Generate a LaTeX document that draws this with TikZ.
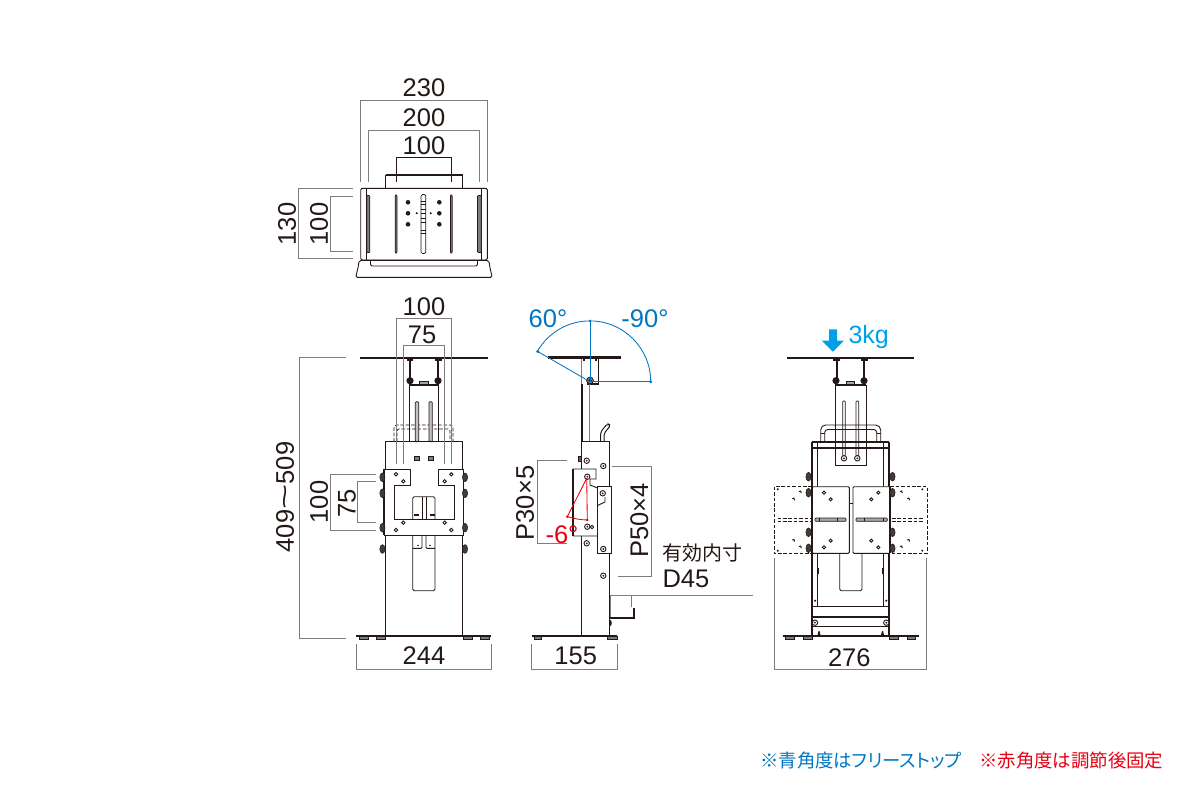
\documentclass[tikz,border=0pt]{standalone}
\usepackage{fontspec}
\setmainfont{Liberation Sans}
\newfontfamily\cjk{Noto Sans CJK JP}
\newfontfamily\cjkp[RawFeature=+palt]{Noto Sans CJK JP}
\definecolor{ink}{HTML}{231815}
\definecolor{dimgray}{HTML}{7D7D7D}
\definecolor{angblue}{HTML}{0075C2}
\definecolor{angred}{HTML}{E60012}
\definecolor{loadblue}{HTML}{00A0E9}
\definecolor{slotgray}{HTML}{A8A8A8}
\tikzset{
  dimline/.style={draw=dimgray,line width=0.75pt},
  part/.style={draw=ink,line width=0.9pt},
  thin part/.style={draw=ink,line width=0.6pt},
  heavy/.style={draw=ink,line width=1.7pt},
  plate/.style={draw=ink,line width=2.1pt},
  slot/.style={draw=ink,fill=slotgray,line width=0.7pt,rounded corners=0.8pt},
  foot/.style={draw=ink,fill=dimgray,line width=0.4pt},
  bore/.style={draw=ink,fill=white,line width=0.9pt},
  solid hole/.style={fill=ink,draw=none},
  knob/.style={draw=ink,fill=ink!85,line width=0.5pt},
  dashpart/.style={draw=ink,line width=0.95pt,dash pattern=on 3.6pt off 1.8pt},
  dimtext/.style={text=ink,font=\fontsize{25.5}{26}\selectfont,inner sep=0pt},
  bluetext/.style={text=angblue,font=\fontsize{25.5}{26}\selectfont,inner sep=0pt},
  redtext/.style={text=angred,font=\fontsize{25.5}{26}\selectfont,inner sep=0pt},
  note/.style={font=\fontsize{20}{20}\selectfont\cjk,text=ink,inner sep=0pt,anchor=west},
  foot note/.style={font=\fontsize{18.4}{19}\selectfont,inner sep=0pt,anchor=west},
  bluedot/.style={fill=angblue,draw=none},
  reddot/.style={fill=angred,draw=none},
  blueline/.style={draw=angblue,line width=0.85pt},
  redline/.style={draw=angred,line width=0.85pt},
}
\newcommand{\bor}[2]{\draw[bore] (#1,#2) circle (1.7);}
\newcommand{\bigbor}[2]{\draw[bore] (#1,#2) circle (2.7); \fill[ink] (#1,#2) circle (1);}
\newcommand{\kn}[2]{\draw[knob] (#1,#2) ellipse (2.6 and 4.4);}
\newcommand{\feet}[2]{\draw[foot] (#1,636.6) rectangle (#2,638.8);}
\begin{document}
\begin{tikzpicture}[x=1pt,y=-1pt]
\useasboundingbox (0,0) rectangle (1200,800);

%% ---------- TOP VIEW ----------
\draw[dimline] (360.5,181.5) -- (360.5,100.7) -- (487.5,100.7) -- (487.5,181.5);
\draw[dimline] (368,181.5) -- (368,130) -- (479.5,130) -- (479.5,181.5);
\draw[part] (396.5,181.5) -- (396.5,157.5) -- (451.5,157.5) -- (451.5,181.5);
\draw[dimline] (353.3,188.3) -- (298.3,188.3) -- (298.3,258.3) -- (353.3,258.3);
\draw[dimline] (353.3,196.7) -- (330,196.7) -- (330,251.7) -- (353.3,251.7);
\draw[part] (385.5,188) -- (385.5,174.8);
\draw[part] (462.5,188) -- (462.5,174.8);
\draw[heavy] (385.5,175) -- (462.5,175);
\draw[part,rounded corners=1.5pt] (360.7,260) -- (360.7,188.3) -- (487.3,188.3) -- (487.3,260) -- cycle;
\draw[part] (366.7,188.3) -- (366.7,260);
\draw[part] (481.7,188.3) -- (481.7,260);
\draw[part] (361,188.3) -- (487,188.3);
\draw[slot,fill=dimgray] (366.8,195.5) rectangle (369.8,252.5);
\draw[slot,fill=dimgray] (477.5,195.5) rectangle (481.3,252.5);
\draw[slot,fill=dimgray,rounded corners=1pt] (395.2,195) rectangle (397,253);
\draw[slot,fill=dimgray,rounded corners=1pt] (450.4,195) rectangle (452.2,253);
\draw[slot,fill=white,rounded corners=1.5pt] (421,194.5) rectangle (425.8,253.5);
\foreach \ly in {201,204,209,213,218,222,230,233}{
  \draw[thin part] (421,\ly) -- (425.8,\ly);
}
\foreach \hy in {202.3,213.3,224.3}{
  \fill[solid hole] (408,\hy) circle (2.3);
  \fill[solid hole] (439.3,\hy) circle (2.3);
}
\fill[solid hole] (416.7,213.3) circle (1.1);
\fill[solid hole] (430.7,213.3) circle (1.1);
\draw[part,rounded corners=2pt] (359,260.3) .. controls (358.5,266) and (357.5,270) .. (356.4,274) .. controls (356,276.5) and (357.5,277.4) .. (359.5,277.4) -- (488.5,277.4) .. controls (490.5,277.4) and (492,276.5) .. (491.4,274) .. controls (490.5,270) and (489.5,266) .. (489,260.3) -- cycle;
\draw[part,rounded corners=2pt] (370.5,260.5) -- (370.5,266) -- (477.5,266) -- (477.5,260.5);

\node[dimtext] (t230) at (424,87.3) {230};
\node[dimtext] (t200) at (424,117.3) {200};
\node[dimtext] (t100a) at (424,145.5) {100};
\node[dimtext,rotate=90] (t130) at (287,224) {130};
\node[dimtext,rotate=90] (t100b) at (319,224) {100};

%% ---------- FRONT VIEW ----------
% handle behind, dashed
\draw[dashpart,line width=0.7pt,rounded corners=3pt] (394,441.7) -- (394,425) -- (453,425) -- (453,441.7);
\draw[dashpart,line width=0.7pt,rounded corners=2pt] (397,441.7) -- (397,429) -- (450,429) -- (450,441.7);
% column
\draw[heavy] (409.5,385) -- (409.5,441.7);
\draw[heavy] (438.5,385) -- (438.5,441.7);
\draw[heavy] (409,385) -- (439,385);
\draw[slot,rounded corners=1pt,fill=slotgray!70] (415.3,401.7) rectangle (418.7,441.7);
\draw[slot,rounded corners=1pt,fill=slotgray!70] (429,401.7) rectangle (432.3,441.7);
\draw[heavy] (410,384) -- (410,359);
\draw[heavy] (438,384) -- (438,359);
\draw[thin part,fill=slotgray] (419,381) rectangle (428.5,384.5);
\fill[ink] (410,380.7) circle (3.6);
\fill[ink] (438,380.7) circle (3.6);
\fill[ink] (406.5,358) rectangle (413,360.5);
\fill[ink] (434.8,358) rectangle (441.5,360.5);
\draw[plate] (360,357.7) -- (488,357.7);
% body
\draw[part] (385.3,635) -- (385.3,441.7) -- (462.7,441.7) -- (462.7,635);
\draw[thin part,fill=dimgray] (414.4,456) rectangle (419,460.6);
\draw[thin part,fill=dimgray] (428.4,456) rectangle (433,460.6);
% lower slide
\draw[part,rounded corners=1.5pt] (412.7,535) -- (412.7,590.7) -- (435,590.7) -- (435,535);
\draw[part,rounded corners=1pt] (412.7,548.3) -- (422,548.3) -- (422,535);
\draw[part,rounded corners=1pt] (435,548.3) -- (426,548.3) -- (426,535);
\fill[ink] (418,545.5) circle (0.9);
\fill[ink] (430,545.5) circle (0.9);
% plate with brackets
\draw[part,fill=white] (384,535) -- (384,469.3) -- (410.7,469.3) -- (410.7,485.5) -- (394.5,485.5) -- (394.5,519.3) -- (454.5,519.3) -- (454.5,485.5) -- (438.3,485.5) -- (438.3,469.3) -- (463.5,469.3) -- (463.5,535) -- cycle;
\draw[heavy] (384,469.3) -- (384,535);
\draw[heavy] (463.5,469.3) -- (463.5,535);
\draw[part,rounded corners=1.5pt] (412.7,519.3) -- (412.7,496.7) -- (435,496.7) -- (435,519.3);
\draw[part] (422,496.7) -- (422,519.3);
\draw[part] (426,496.7) -- (426,519.3);
\fill[ink] (413.5,513.5) rectangle (418.5,516);
\fill[ink] (429.5,513.5) rectangle (434.5,516);
\bor{396}{474.3}\bor{403.3}{481.3}\bor{451.3}{474.3}\bor{444.7}{481.3}
\bor{403.3}{522.7}\bor{396}{530}\bor{444.7}{522.7}\bor{451.3}{530}
\foreach \ky in {477.3,493.3,527.7,549}{
  \kn{382.4}{\ky}
  \kn{465}{\ky}
}
\draw[plate] (356,635.7) -- (491.3,635.7);
\feet{358.7}{368}\feet{376}{385.3}\feet{462.7}{472}\feet{480}{489.3}
% dimensions
\draw[dimline] (396.3,464) -- (396.3,318.3) -- (451.7,318.3) -- (451.7,464);
\draw[dimline] (403.3,464) -- (403.3,345.7) -- (444.7,345.7) -- (444.7,464);
\draw[dimline] (346,357.5) -- (299.7,357.5) -- (299.7,638) -- (346,638);
\draw[dimline] (376,474.3) -- (330.3,474.3) -- (330.3,530) -- (376,530);
\draw[dimline] (376,481.7) -- (357.7,481.7) -- (357.7,522.7) -- (376,522.7);
\draw[dimline] (356.7,644) -- (356.7,669.3) -- (491,669.3) -- (491,644);
\node[dimtext] (t100c) at (424,306.5) {100};
\node[dimtext] (t75a) at (422,335) {75};
\node[dimtext,rotate=90] (t409) at (285,497) {409\scalebox{1.7}[1]{\char"007E}509};
\node[dimtext,rotate=90] (t100d) at (319,502) {100};
\node[dimtext,rotate=90] (t75b) at (347,503) {75};
\node[dimtext] (t244) at (424,656) {244};

%% ---------- SIDE VIEW ----------
\draw[draw=dimgray,line width=0.75pt] (581.7,358) -- (581.7,384);
\draw[heavy] (598.4,358) -- (598.4,384) -- (587,384);
\draw[heavy] (581.7,384) -- (581.7,441.7);
\draw[dimline] (589,384) -- (589,441.7);
\fill[ink] (583,358) rectangle (585,361);
\fill[ink] (594.5,358) rectangle (596.5,361);
\draw[plate] (548.3,357.5) -- (620.7,357.5);
\draw[draw=ink,fill=dimgray,line width=0.8pt] (590,380.5) circle (3.4);
\fill[ink] (590,380.5) circle (1.8);
\draw[draw=ink,line width=1pt,rounded corners=2pt,fill=white] (600.6,441.7) -- (600.6,432) -- (607.5,423.5) -- (610.5,425.5) -- (604,433.5) -- (604,441.7);
\draw[part] (581,635) -- (581,441.7) -- (609,441.7) -- (609,635);
\draw[thin part,fill=ink!70] (578.5,456.5) rectangle (581,461.5);
\bigbor{586.7}{460.7}\bigbor{603.3}{466}\bigbor{586.7}{543.3}\bigbor{603.3}{575.7}
% tilted plate
\draw[part,fill=white] (573.3,469) -- (596,469) -- (596,479) -- (590,479) -- (590,485) -- (597.5,488) -- (597.5,536) -- (573.3,536) -- cycle;
\draw[heavy] (573.3,469) -- (573.3,536);
\bigbor{587.3}{476.7}
\bigbor{587.3}{526.7}
\draw[bore] (592,527) circle (1.7);
% fixed plate
\draw[part,fill=white] (597.5,486.7) -- (611.7,486.7) -- (611.7,553.3) -- (597.5,553.3) -- cycle;
\draw[heavy] (611.4,486.7) -- (611.4,553.3);
\draw[part] (597.5,505.5) -- (605,502) -- (605,497);
\bigbor{602.7}{493.3}\bigbor{603.3}{549}
% base bracket
\draw[plate] (531.7,635.7) -- (617.3,635.7);
\draw[foot] (534,636.6) rectangle (540.7,638.8);
\draw[foot] (607,636.6) rectangle (617,638.8);
\draw[dimline] (610.7,616.7) -- (610.7,595.7) -- (752.7,595.7);
\draw[dimline] (631.7,595.7) -- (631.7,606.7);
\draw[heavy] (634,607.7) -- (634,618.3) -- (609.5,618.3);
\fill[ink] (609.5,619.5) .. controls (612.5,620) and (612.5,626) .. (609.5,626.5) -- cycle;
% angles
\draw[blueline] (590,320.9) -- (590,381.7) -- (650.7,381.7);
\draw[blueline] (590,381.7) -- (537.4,351.3);
\draw[blueline] (537.4,351.3) .. controls (548.5,332.2) and (568.2,320.9) .. (590,320.9) .. controls (623.5,320.9) and (650.7,348.2) .. (650.7,381.7);
\fill[bluedot] (590,320.9) circle (1.4);
\fill[bluedot] (650.7,381.7) circle (1.6);
\fill[bluedot] (537.7,351.5) circle (1.6);
\draw[redline] (586.7,478.3) -- (567.3,516.7);
\draw[redline] (586.7,478.3) -- (587.3,520);
\draw[redline] (567.3,516.7) .. controls (574,518.6) and (580,519.8) .. (587.3,520);
\fill[reddot] (567.3,516.7) circle (1.4);
\fill[reddot] (587.3,520) circle (1.4);
% dimensions
\draw[dimline] (566.7,460.7) -- (537.3,460.7) -- (537.3,543.3) -- (566.7,543.3);
\draw[dimline] (611.7,466.7) -- (651.7,466.7) -- (651.7,576.7) -- (618,576.7);
\draw[dimline] (531.7,644.3) -- (531.7,669.3) -- (617.3,669.3) -- (617.3,644.3);
\node[dimtext,rotate=90] (tp30) at (525,503) {P30×5};
\node[dimtext,rotate=90] (tp50) at (639.3,520.7) {P50×4};
\node[note] (tyu) at (662.3,552.5) {有効内寸};
\node[dimtext,anchor=west] (td45) at (662.3,579) {D45};
\node[dimtext] (t155) at (575.7,656) {155};
\node[bluetext] (t60) at (548,318.3) {60°};
\node[bluetext] (t90) at (645,318.3) {-90°};
\node[redtext] (t6) at (562,534.5) {-6°};

%% ---------- REAR VIEW ----------
\draw[plate] (786.7,357.7) -- (914.3,357.7);
\fill[ink] (832.5,358) rectangle (840,360.5);
\fill[ink] (861,358) rectangle (868,360.5);
\fill[loadblue] (829,329.3) -- (837,329.3) -- (837,340.7) -- (844,340.7) -- (832.9,351.7) -- (821.7,340.7) -- (829,340.7) -- cycle;
\node[text=loadblue,font=\fontsize{25}{26}\selectfont,inner sep=0pt] (t3kg) at (868.7,337.5) {3kg};
% column
\draw[part,fill=white] (835,385) rectangle (866.3,465);
\draw[heavy] (835,385) -- (866.3,385);
\draw[heavy] (837,360) -- (837,382);
\draw[heavy] (864.3,360) -- (864.3,382);
\fill[ink] (836,380.7) circle (3.6);
\fill[ink] (864,380.7) circle (3.6);
\draw[thin part,fill=slotgray] (846,381) rectangle (854.5,384.5);
\draw[slot,fill=white] (842.7,401) rectangle (845.3,456);
\draw[slot,fill=white] (856,401) rectangle (858.7,456);
\bigbor{844}{458.3}\bigbor{857.3}{458.3}
% handle
\draw[part,rounded corners=5pt] (820.7,441.7) -- (820.7,425) -- (880.7,425) -- (880.7,441.7);
\draw[part,rounded corners=3pt] (824.7,441.7) -- (824.7,429.5) -- (876.7,429.5) -- (876.7,441.7);
\draw[part] (820.7,433) -- (824.7,433);
\draw[part] (876.7,433) -- (880.7,433);
% body
\draw[heavy] (812,635) -- (812,441.7);
\draw[heavy] (889,635) -- (889,441.7);
\draw[heavy] (811.7,441.7) -- (889,441.7);
\draw[heavy] (811.7,448.3) -- (889,448.3);
\draw[part] (817.7,441.7) -- (817.7,606.7);
\draw[part] (883.3,441.7) -- (883.3,606.7);
\draw[part,rounded corners=1.5pt] (839.7,553) -- (839.7,590.7) -- (862,590.7) -- (862,553);
\draw[part] (812,606.7) -- (889,606.7);
\draw[heavy] (812,617.3) -- (889,617.3);
\draw[part] (812,626.7) -- (889,626.7);
\bigbor{815}{622.7}\bigbor{886.3}{622.7}
\fill[ink] (815,600.7) circle (1.2);
\fill[ink] (886.3,600.7) circle (1.2);
\fill[ink] (817.7,568) rectangle (819,574);
\fill[ink] (882,568) rectangle (883.3,574);
\fill[ink] (817.5,635) -- (818.5,631) -- (819.5,631) -- (820.5,635) -- cycle;
\fill[ink] (881,635) -- (882,631) -- (883,631) -- (884,635) -- cycle;
\draw[plate] (782.7,635.7) -- (918.7,635.7);
\draw[foot] (785,636.6) rectangle (793.7,638.8);
\draw[foot] (803,636.6) rectangle (812,638.8);
\draw[foot] (889.3,636.6) rectangle (898.3,638.8);
\draw[foot] (906.7,636.6) rectangle (915,638.8);
% dashed swing plates
\draw[dashpart] (812,486.7) -- (774.3,486.7) -- (774.3,553.3) -- (812,553.3);
\draw[dashpart] (890.3,486.7) -- (927,486.7) -- (927,553.3) -- (890.3,553.3);
\draw[dashpart] (777.5,518.5) -- (810,518.5);
\draw[dashpart] (777.5,521) -- (810,521);
\draw[dashpart] (892,518.5) -- (923.5,518.5);
\draw[dashpart] (892,521) -- (923.5,521);
\foreach \dx/\dy in {800/492.3,793.3/499.3,800/547.3,793.3/540.7,901/492.3,908.3/499.3,901/547.3,908.3/540.7}{
  \draw[part] (\dx,\dy) ++(-1,-0.6) arc[start angle=200,end angle=420,radius=1.2];
}
\foreach \dx/\dy in {777.7/489.3,777.7/550.7,922.3/489.3,922.3/550.7}{
  \fill[ink] (\dx,\dy) circle (1.1);
}
% solid plates
\draw[part,fill=white,rounded corners=1pt] (812.3,486.7) rectangle (849.3,553.3);
\draw[part,fill=white,rounded corners=1pt] (853,486.7) rectangle (890.3,553.3);
\draw[heavy] (812.3,486.7) -- (812.3,553.3);
\draw[heavy] (890.3,486.7) -- (890.3,553.3);
\draw[part] (849.3,503.3) -- (853,503.3);
\draw[slot] (815,518) rectangle (846,521.3);
\draw[slot] (856,518) rectangle (887.3,521.3);
\draw[part] (819.5,518) -- (819.5,521.3);
\draw[part] (837.5,518) -- (837.5,521.3);
\draw[part] (864.5,518) -- (864.5,521.3);
\draw[part] (883,518) -- (883,521.3);
\foreach \hx/\hy in {824/492.7,830.7/499.3,824/547.3,830.7/540.7,878.3/492.7,871.3/499.3,878.3/547.3,871.3/540.7}{
  \draw[bore] (\hx,\hy) circle (1.6);
}
\foreach \ky in {476.7,492.7,532.3,548.3}{
  \kn{808.5}{\ky}
  \kn{892.5}{\ky}
}
\draw[dimline] (774.3,558.3) -- (774.3,669.3) -- (926.7,669.3) -- (926.7,558.3);
\node[dimtext] (t276) at (849.3,657.3) {276};

%% ---------- NOTES ----------
\node[foot note,text=angblue] (nblue) at (760,761) {\cjkp\fontsize{18.4}{19}\selectfont ※青角度はフリーストップ};
\node[foot note,text=angred] (nred) at (979,761) {\cjk\fontsize{18.4}{19}\selectfont ※赤角度は調節後固定};
\end{tikzpicture}
\end{document}
